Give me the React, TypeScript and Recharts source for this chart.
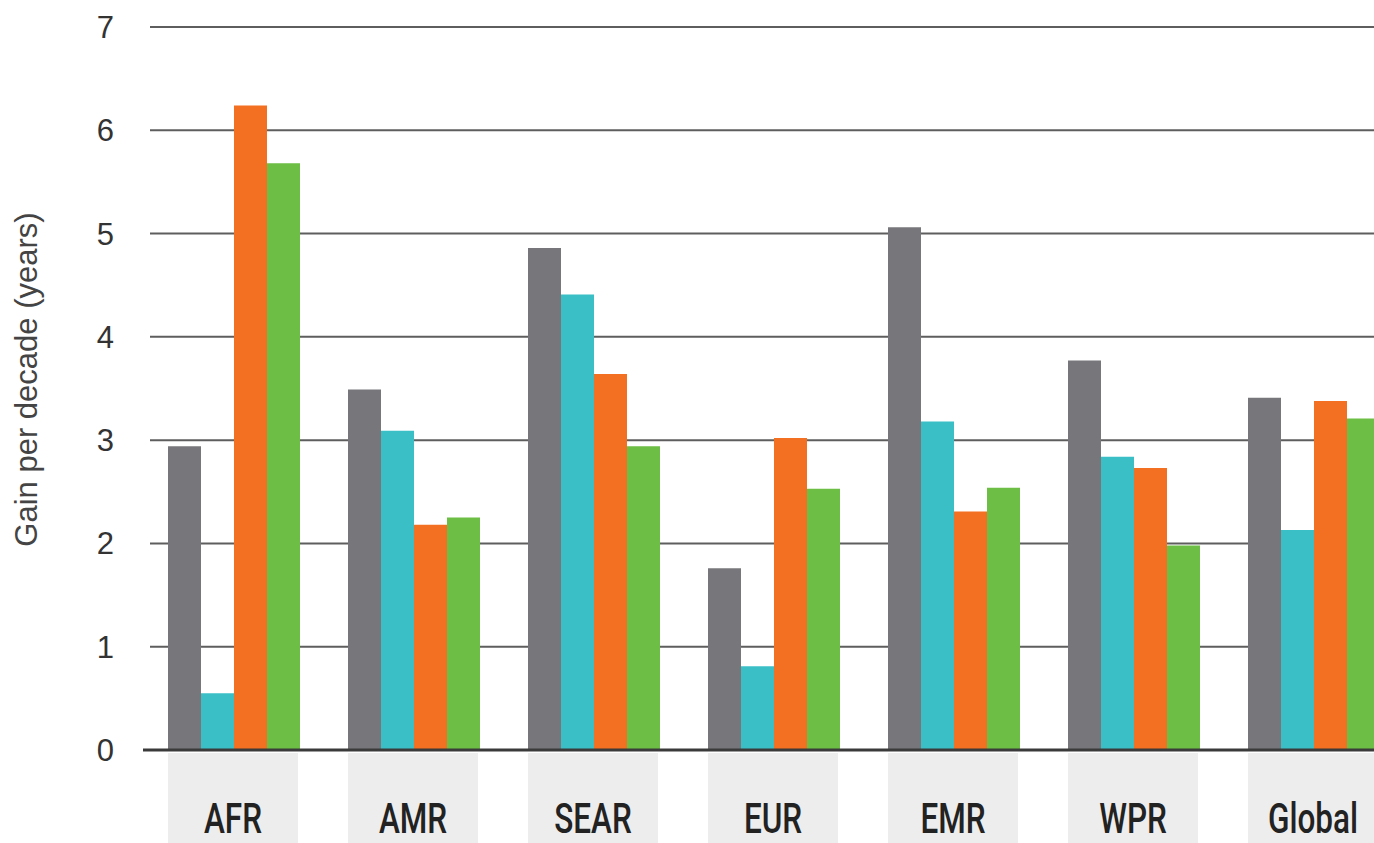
import React from 'react';
import { BarChart, Bar, XAxis, YAxis, CartesianGrid } from 'recharts';

const categories = ['AFR', 'AMR', 'SEAR', 'EUR', 'EMR', 'WPR', 'Global'];
const seriesGrey = [2.94, 3.49, 4.86, 1.76, 5.06, 3.77, 3.41];
const seriesCyan = [0.55, 3.09, 4.41, 0.81, 3.18, 2.84, 2.13];
const seriesOrange = [6.24, 2.18, 3.64, 3.02, 2.31, 2.73, 3.38];
const seriesGreen = [5.68, 2.25, 2.94, 2.53, 2.54, 1.98, 3.21];
const yTicks = [0, 1, 2, 3, 4, 5, 6, 7];

const data = categories.map((c, i) => ({
  region: c,
  grey: seriesGrey[i],
  cyan: seriesCyan[i],
  orange: seriesOrange[i],
  green: seriesGreen[i],
}));

const XTick = (props: any) => {
  const { x, y, payload } = props;
  return (
    <g>
      <rect x={x - 65} y={y + 3} width={130} height={100} fill="#ededed" />
      <text
        transform={`translate(${x} ${y + 83}) scale(0.75 1)`}
        x={0}
        y={0}
        textAnchor="middle"
        fontFamily="Roboto, sans-serif"
        fontWeight={500}
        fontSize={42}
        fill="#222222"
      >
        {payload.value}
      </text>
    </g>
  );
};

const GridLine = (props: any) => {
  const { x1, x2, y1, y2 } = props;
  return <line x1={x1 + 7} x2={x2} y1={y1} y2={y2} stroke="#5e5e5e" strokeWidth={2} />;
};

const YLabel = (props: any) => {
  const vb = props.viewBox || {};
  const cx = vb.x + 37;
  const cy = vb.y + vb.height / 2 - 9;
  return (
    <text
      x={cx}
      y={cy}
      transform={`rotate(-90 ${cx} ${cy})`}
      textAnchor="middle"
      fontFamily='"Liberation Sans", Arial, sans-serif'
      fontSize={31}
      fill="#444444"
    >
      Gain per decade (years)
    </text>
  );
};

export default function App() {
  return (
    <div
      style={{
        position: 'fixed',
        left: 0,
        top: 0,
        width: 1374,
        height: 843,
        overflow: 'hidden',
        background: '#ffffff',
      }}
    >
      <BarChart
        width={1420}
        height={843}
        data={data}
        margin={{ top: 27, right: 17, bottom: 0, left: 0 }}
        barGap={0}
        barCategoryGap={25}
      >
        <CartesianGrid vertical={false} horizontal={GridLine} />
        <XAxis
          dataKey="region"
          height={93}
          tickLine={false}
          tickSize={0}
          tickMargin={0}
          axisLine={{ stroke: '#3a3a3a', strokeWidth: 3 }}
          tick={<XTick />}
          interval={0}
        />
        <YAxis
          width={143}
          domain={[0, 7]}
          ticks={yTicks}
          interval={0}
          axisLine={false}
          tickLine={false}
          tickSize={0}
          tickMargin={29}
          tick={{ fontFamily: '"Liberation Sans", Arial, sans-serif', fontSize: 31, fill: '#333333' }}
          label={<YLabel />}
        />
        <Bar dataKey="grey" fill="#77777b" isAnimationActive={false} />
        <Bar dataKey="cyan" fill="#3bbfc7" isAnimationActive={false} />
        <Bar dataKey="orange" fill="#f36f21" isAnimationActive={false} />
        <Bar dataKey="green" fill="#6dbe45" isAnimationActive={false} />
      </BarChart>
    </div>
  );
}
